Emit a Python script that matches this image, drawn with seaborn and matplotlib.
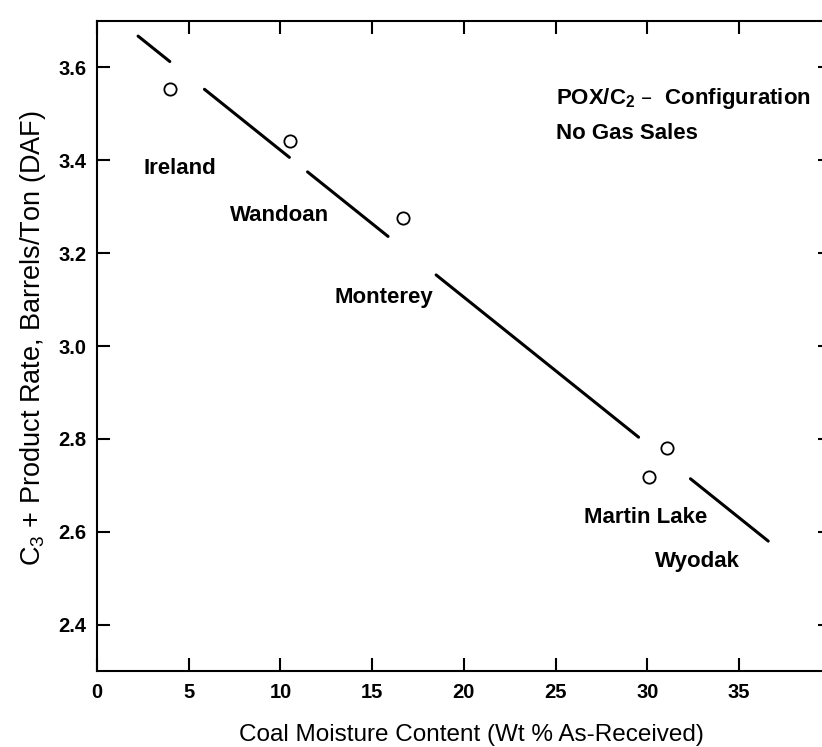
import numpy as np
import pandas as pd
import matplotlib
matplotlib.use("Agg")
import matplotlib.pyplot as plt
import seaborn as sns

# Coal samples: moisture content vs. C3+ product rate
coal_names = ["Ireland", "Wandoan", "Monterey", "Martin Lake", "Wyodak"]
moisture_pct = [4.0, 10.5, 16.7, 30.1, 31.1]
product_rate = [3.553, 3.441, 3.275, 2.718, 2.780]

# Trend line is drawn in pieces, broken where it passes labels and points
trend_pieces = [(2.24, 3.97), (5.86, 10.49), (11.48, 15.87), (18.49, 29.53), (32.36, 36.6)]

x_ticks = [0, 5, 10, 15, 20, 25, 30, 35]
y_ticks = [2.4, 2.6, 2.8, 3.0, 3.2, 3.4, 3.6]

x_title = "Coal Moisture Content (Wt % As-Received)"
y_title = "C$_3$ + Product Rate, Barrels/Ton (DAF)"
note_lines = ["POX/C$_2$ –  Configuration", "No Gas Sales"]

# Label placement (data coordinates)
label_pos = {
    "Ireland": (4.5, 3.383),
    "Wandoan": (9.95, 3.281),
    "Monterey": (15.65, 3.105),
    "Martin Lake": (29.9, 2.631),
    "Wyodak": (32.76, 2.535),
}
note_pos = [(25.05, 3.533), (25.05, 3.457)]

sns.set_style("ticks")
plt.rcParams["font.family"] = ["Liberation Sans", "DejaVu Sans"]
plt.rcParams["mathtext.default"] = "regular"

W, H = 822, 747
fig = plt.figure(figsize=(W / 100, H / 100), dpi=100)
ax_left, ax_right, ax_top, ax_bottom = 97, 830.6, 21, 671
ax = fig.add_axes([ax_left / W, 1 - ax_bottom / H,
                   (ax_right - ax_left) / W, (ax_bottom - ax_top) / H])

df = pd.DataFrame({"name": coal_names, "moisture": moisture_pct, "rate": product_rate})

# least-squares trend through the samples
slope, intercept = np.polyfit(df["moisture"], df["rate"], 1)
rows = []
for i, (a, b) in enumerate(trend_pieces):
    for xv in (a, b):
        rows.append({"piece": i, "x": xv, "y": intercept + slope * xv})
trend = pd.DataFrame(rows)

sns.lineplot(data=trend, x="x", y="y", units="piece", estimator=None,
             color="black", linewidth=2.2, ax=ax, legend=False)
sns.scatterplot(data=df, x="moisture", y="rate", marker="o", s=78,
                facecolor="white", edgecolor="black", linewidth=1.3,
                ax=ax, zorder=3, legend=False)

for name in coal_names:
    lx, ly = label_pos[name]
    ax.text(lx, ly, name, ha="center", va="center", fontsize=16,
            fontweight="bold", color="black")

for (nx, ny), line in zip(note_pos, note_lines):
    ax.text(nx, ny, line, ha="left", va="center", fontsize=16,
            fontweight="bold", color="black")

ax.set_xlim(0, 40)
ax.set_ylim(2.3, 3.7)
ax.set_xticks(x_ticks)
ax.set_yticks(y_ticks)
ax.set_xticklabels([str(t) for t in x_ticks])
ax.set_yticklabels([f"{t:.1f}" for t in y_ticks])
ax.tick_params(direction="in", length=9.5, width=1.5, top=True, right=True,
               labelsize=14.5, colors="black")
ax.tick_params(axis="x", pad=9)
ax.tick_params(axis="y", pad=7.5)
for lab in ax.get_xticklabels() + ax.get_yticklabels():
    lab.set_fontweight("bold")

for side in ["left", "bottom", "top", "right"]:
    ax.spines[side].set_linewidth(1.5)
    ax.spines[side].set_color("black")

ax.set_xlabel(x_title, fontsize=17.5, color="black")
ax.set_ylabel(y_title, fontsize=19.5, color="black")
# x title: top edge just under the tick labels; y title: right edge left of tick labels
ax.xaxis.set_label_coords((471 - ax_left) / (ax_right - ax_left),
                          (ax_bottom - 724) / (ax_bottom - ax_top))
ax.yaxis.set_label_coords((48 - ax_left) / (ax_right - ax_left),
                          (ax_bottom - 338) / (ax_bottom - ax_top))

fig.savefig("out.png", dpi=100, facecolor="white")
